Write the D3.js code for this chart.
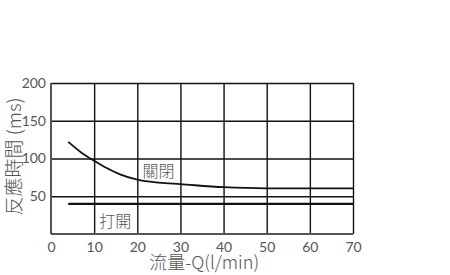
<!DOCTYPE html>
<html>
<head>
<meta charset="utf-8">
<script src="https://cdn.jsdelivr.net/npm/d3@7"></script>
<style>
  body { margin: 0; background: #fff; }
  svg text { font-family: "Lato", "Noto Sans CJK TC", sans-serif; fill: #555; }
  .cjk { font-family: "Noto Sans CJK TC", sans-serif; font-weight: 300; }
</style>
</head>
<body>
<div id="chart"></div>
<script>
// Response time vs flow
const xTicks = [0, 10, 20, 30, 40, 50, 60, 70];
const yTicks = [0, 50, 100, 150, 200];
const closeFlow = [4, 7, 10, 13, 16, 20, 25, 30, 40, 50, 60, 70];
const closeTime = [122, 108, 97, 87, 79, 72, 68, 66, 62, 60.5, 60.5, 60.5];
const openFlow = [4, 70];
const openTime = [40, 40];

const width = 450, height = 275;
const margin = { top: 83, right: 97, bottom: 41, left: 51 };
const innerWidth = width - margin.left - margin.right;
const innerHeight = height - margin.top - margin.bottom;

const svg = d3.select("#chart").append("svg")
  .attr("width", width).attr("height", height);
const plot = svg.append("g").attr("transform", `translate(${margin.left},${margin.top})`);

const x = d3.scaleLinear().domain([0, 70]).range([0, innerWidth]);
const y = d3.scaleLinear().domain([0, 200]).range([innerHeight, 0]);

// grid
plot.append("g")
  .call(d3.axisBottom(x).tickValues(xTicks.slice(1)).tickSize(innerHeight).tickFormat(""))
  .call(g => g.select(".domain").remove())
  .selectAll("line").attr("stroke", "#111").attr("stroke-width", 1.4);
plot.append("g")
  .call(d3.axisLeft(y).tickValues(yTicks.slice(1)).tickSize(-innerWidth).tickFormat(""))
  .call(g => g.select(".domain").remove())
  .selectAll("line").attr("stroke", "#111").attr("stroke-width", 1.4);

// axes frame (left and bottom)
plot.append("line").attr("x1", 0).attr("x2", 0).attr("y1", 0).attr("y2", innerHeight)
  .attr("stroke", "#555").attr("stroke-width", 2);
plot.append("line").attr("x1", 0).attr("x2", innerWidth).attr("y1", innerHeight).attr("y2", innerHeight)
  .attr("stroke", "#555").attr("stroke-width", 2);

// tick labels
const xAxis = plot.append("g").attr("transform", `translate(0,${innerHeight})`)
  .call(d3.axisBottom(x).tickValues(xTicks).tickSize(0).tickPadding(8).tickFormat(d3.format("d")));
xAxis.select(".domain").remove();
xAxis.selectAll("text").style("font-size", "14px").attr("fill", "#555");

const yAxis = plot.append("g")
  .call(d3.axisLeft(y).tickValues(yTicks.slice(1)).tickSize(0).tickPadding(5).tickFormat(d3.format("d")));
yAxis.select(".domain").remove();
yAxis.selectAll("text").style("font-size", "14px").attr("fill", "#555");

// series
const line = d3.line().x(d => x(d[0])).y(d => y(d[1])).curve(d3.curveMonotoneX);
plot.append("path")
  .datum(d3.zip(closeFlow, closeTime))
  .attr("d", line).attr("fill", "none").attr("stroke", "#111").attr("stroke-width", 1.8);
plot.append("path")
  .datum(d3.zip(openFlow, openTime))
  .attr("d", line).attr("fill", "none").attr("stroke", "#111").attr("stroke-width", 2.2);

// series labels
plot.append("text").attr("class", "cjk")
  .attr("x", x(21.2)).attr("y", y(75))
  .style("font-size", "16px").text("關閉");
plot.append("text").attr("class", "cjk")
  .attr("x", x(11.2)).attr("y", y(9))
  .style("font-size", "16px").text("打開");

// axis titles
svg.append("text").attr("class", "cjk")
  .attr("text-anchor", "middle")
  .attr("x", margin.left + x(35.5)).attr("y", 269)
  .style("font-size", "18px").text("流量-Q(l/min)");
svg.append("text").attr("class", "cjk")
  .attr("text-anchor", "middle")
  .attr("transform", `translate(21,${margin.top + innerHeight / 2 - 2}) rotate(-90)`)
  .style("font-size", "19px").text("反應時間 (ms)");
</script>
</body>
</html>
